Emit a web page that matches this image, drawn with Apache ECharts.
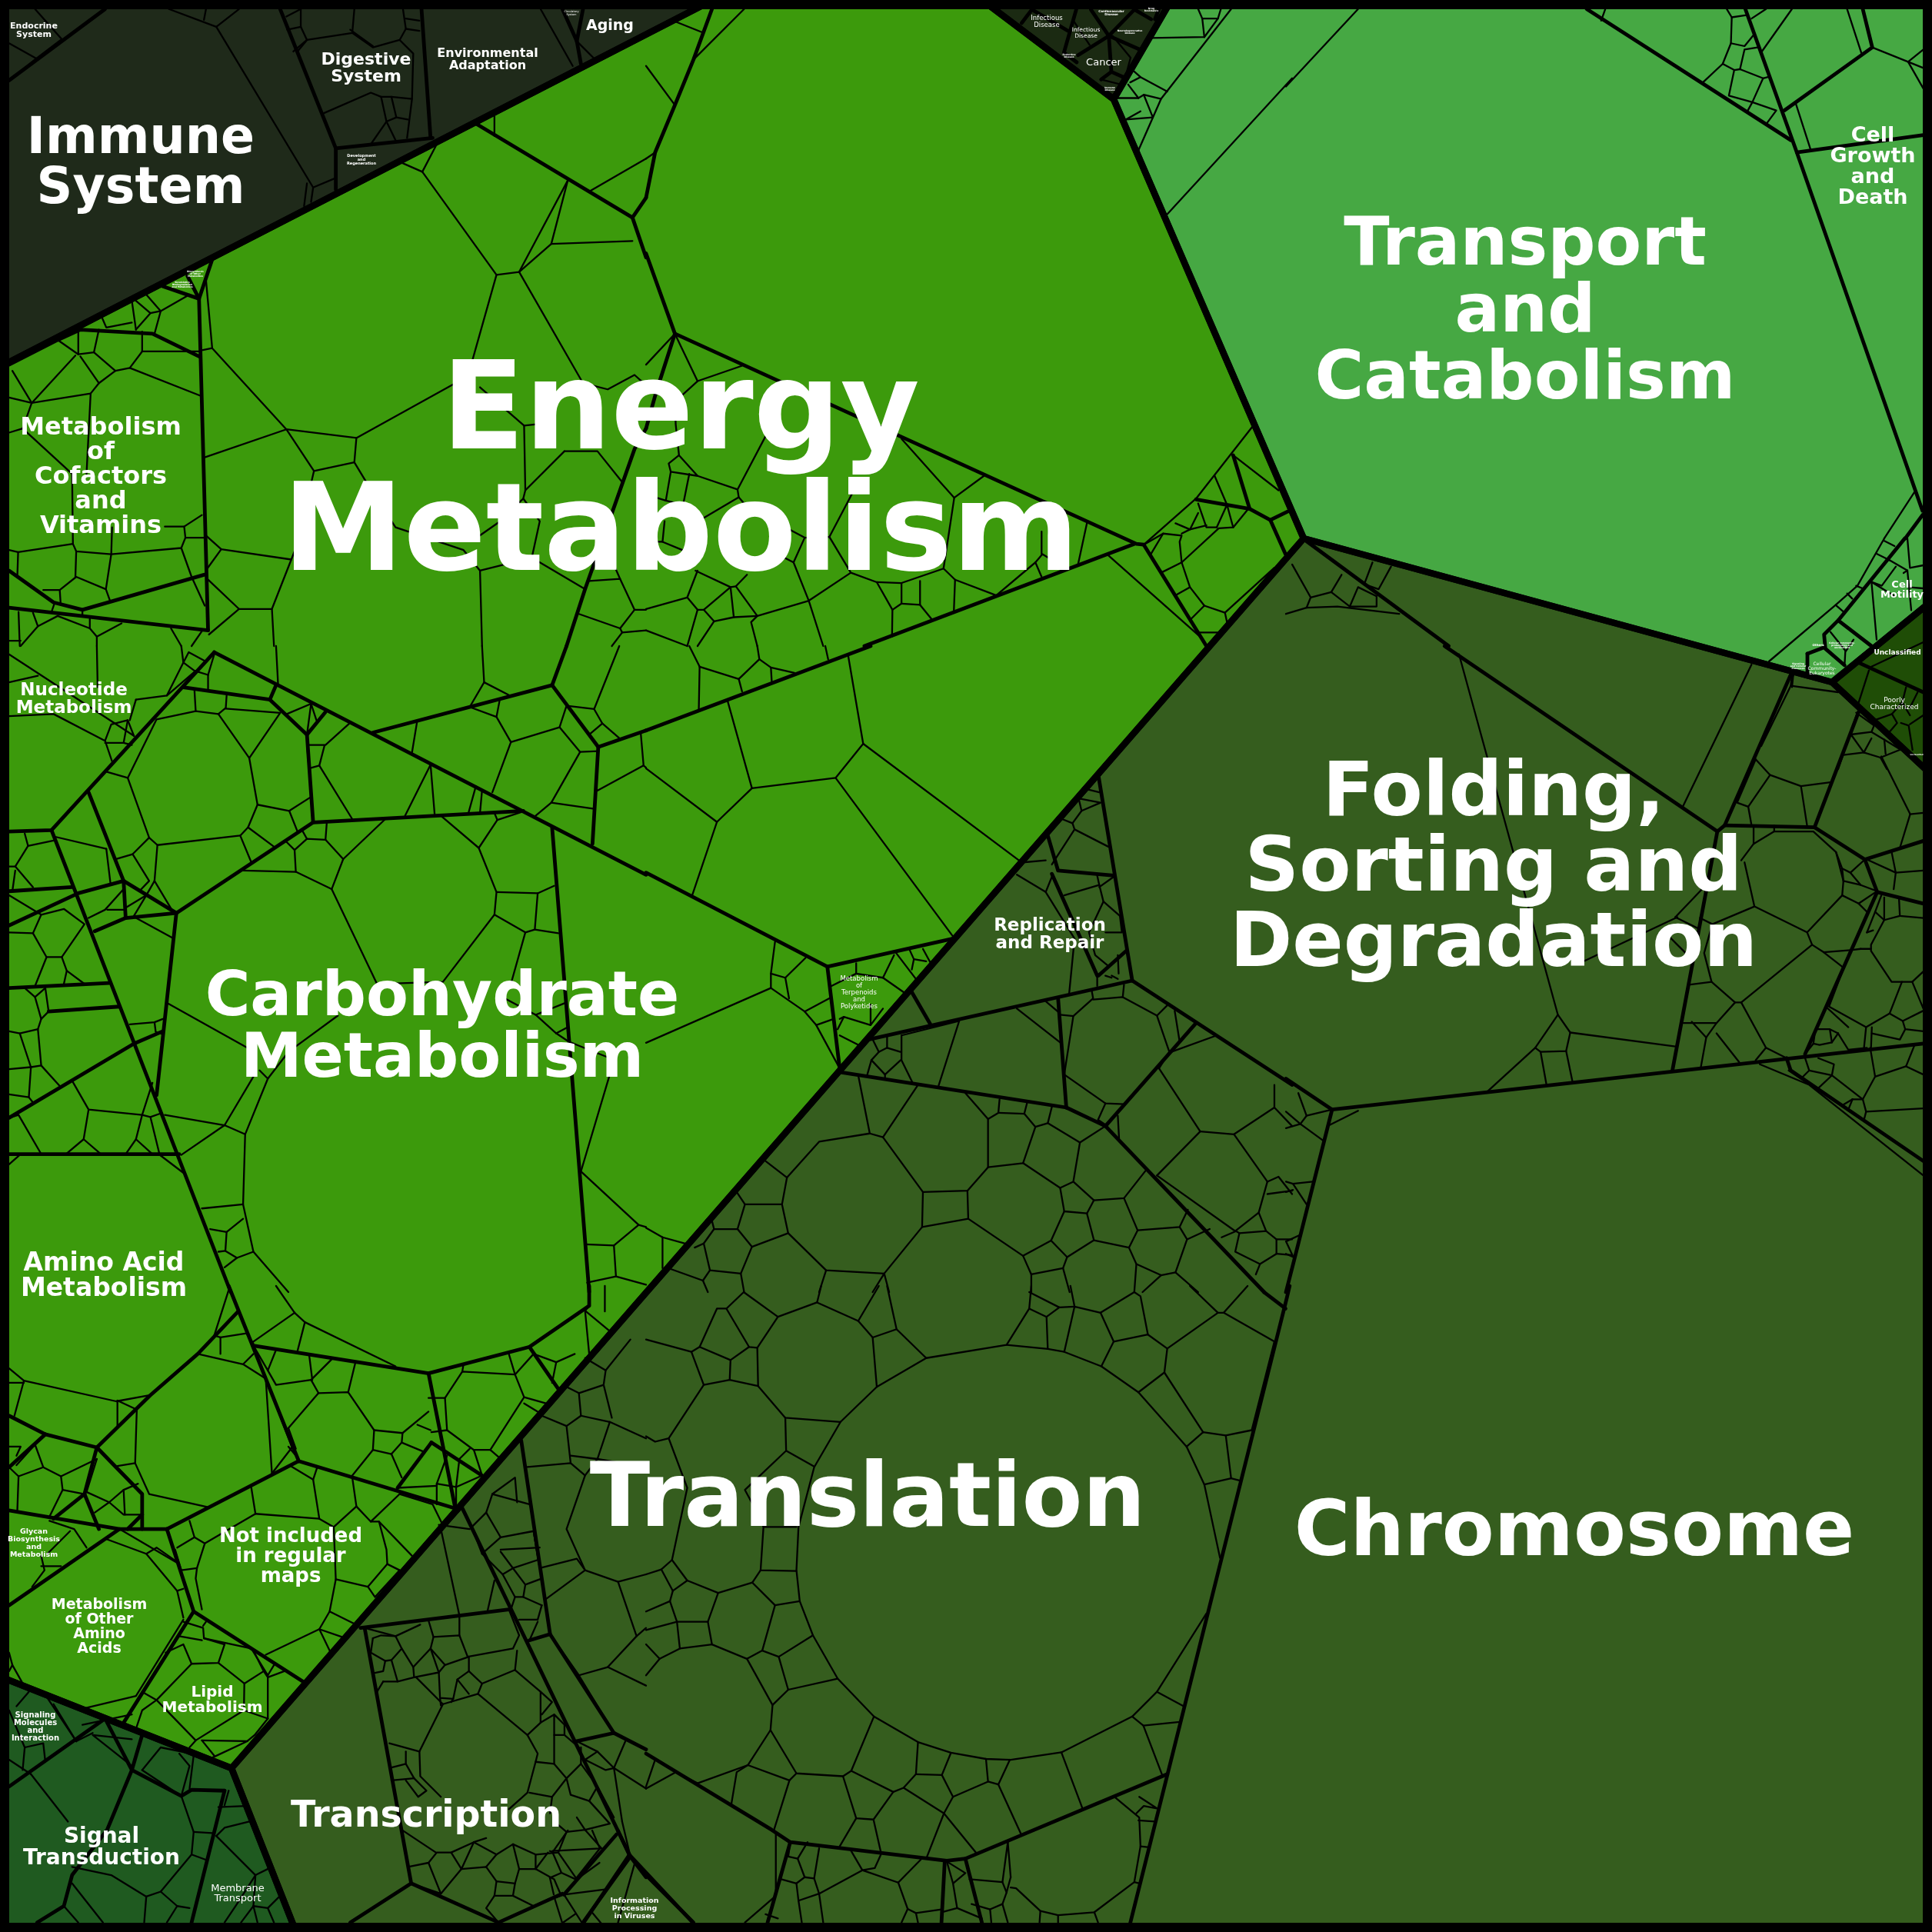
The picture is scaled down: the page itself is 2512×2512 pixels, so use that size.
<!DOCTYPE html>
<html><head><meta charset="utf-8">
<style>html,body{margin:0;padding:0;background:#000}#c{width:2512px;height:2512px}</style>
<script src="https://cdn.jsdelivr.net/npm/echarts@6/dist/echarts.min.js"></script>
</head><body><div id="c"></div>
<script>
// ---- top level regions, in picture coordinates ----
const regionNames=['Organismal Systems','Human Diseases','Cellular Processes','Poorly Characterized','Genetic Information Processing','Metabolism','Environmental Information Processing'];
const regionColors=['#1f2a1a','#1b2a12','#46a843','#1f4d06','#355d1e','#3c9a0c','#1f5a20'];
const regionOutlines=[
 [[0,0],[927,0],[0,477]],
 [[1277,0],[1448,129],[1523,0]],
 [[1523,0],[1448,129],[1695,700],[2382,887],[2512,781],[2512,0]],
 [[2382,887],[2512,781],[2512,1008]],
 [[1695,700],[2382,887],[2512,1008],[2512,2512],[385,2512],[301,2299]],
 [[927,0],[1277,0],[1448,129],[1695,700],[301,2299],[0,2180],[0,477]],
 [[0,2180],[301,2299],[385,2512],[0,2512]]
];
// ---- category (medium) borders, read per crop of the picture ----
const midA=[[680,22,815,360,815,460],[815,360,1050,335],[1023,22,1045,335],[22,195,255,22],[1365,22,1400,100,1410,155],[1415,22,1400,100],
[1155,300,1535,528],[515,630,483,725,505,1530],[22,885,140,825,195,800,370,810,483,865],[22,1385,130,1462,200,1480,495,1395],[22,1475,505,1530],[395,695,483,725],[455,670,483,725],[1535,528,1568,625],[1535,528,1568,480],[1568,1040,1540,1090,1480,1260,1420,1430,1375,1568]];
const midB=[[160,22,115,145,70,255,22,370,0,480],[0,615,70,810],[70,810,1190,1320,1208,1322],[70,810,25,950,0,1040],[1185,1320,530,1568],[1208,1322,1360,1568],[1335,1212,1465,1235,1515,1262,1552,1345],[1465,1235,1425,1105],[1515,1262,1560,1240]];
const midC=[[730,22,1225,340],[1115,22,1240,370,1545,1240],[1240,370,1547,328],[1210,268,1423,115,1400,22],[45,1310,395,1568],[1545,1250,1503,1307]];
const midD=[[22,450,125,447,520,15],[520,15,1568,555],[125,447,560,1568],[445,100,655,130,670,95],[655,130,745,215,790,160],[745,215,760,428,1270,400],[760,428,428,648,300,570,215,355],[428,648,380,1090],[300,570,305,660,230,692],[305,660,428,648],[300,570,190,600,22,678],[22,595,175,585],[22,830,265,818],[118,887,290,875],[22,1145,325,965,395,935],[22,1233,435,1233],[1340,440,1430,1568],[1340,95,905,210],[1340,95,1452,245,1568,205],[1452,245,1438,480],[1340,95,1375,0]];
const midE=[[0,205,545,0],[0,550,440,778,745,710],[440,778,470,1025],[1098,315,1180,812],[1180,812,540,955],[1180,812,1568,1065],[1000,855,1020,1120],[475,1035,1020,1120],[1020,1120,1115,1165,1500,1568],[1115,1165,1335,915],[470,1030,540,955],[975,460,1000,545,1135,557],[985,553,1095,800],[1098,800,1165,740],[690,918,645,840]];
const midF=[[0,1050,112,1125,1547,965],[112,1125,20,1490,0,1568],[385,0,1047,450],[1047,450,938,1030],[1047,450,1065,435,1225,70,1230,70],[1065,435,1283,440,1390,160],[1283,440,1405,518,1547,473],[1405,518,1435,597,1260,990],[1435,597,1547,625],[1215,1000,1225,1030,1547,1250]];
const midG=[[22,775,290,590,405,590],[22,545,290,590],[405,590,725,425,1105,540],[405,590,470,790,735,960],[470,790,300,1060],[725,425,555,0],[1040,212,1105,540],[1047,380,1170,460],[1047,380,965,490],[615,145,1040,212,1285,148,1430,48,1430,0],[1285,148,1355,250],[22,315,110,360,235,392,365,265,480,165,578,62],[235,392,205,505],[22,440,110,360],[235,392,345,505,345,590],[205,505,130,565],[205,505,240,590],[345,555,310,590],
[22,1215,255,1050],[320,1175,440,1238,465,1223,545,1225],[255,1050,320,1175],[320,1175,260,1320,175,1430,155,1505,90,1545],[545,1225,465,1545],[345,1090,320,1175],
[875,830,1235,785],[885,830,998,1450,1210,1545,1365,1475],[1120,535,1530,1385,1415,1545],[1265,375,1335,845,1490,1085],[1335,845,1285,860],[1490,1085,1400,1105],[1490,1085,1568,1125],[1530,1385,1568,1435],[998,1450,850,1545]];
const midH=[[0,1135,305,1320,350,1350,730,1395,775,1390,1265,1185],[350,1350,295,1545],[725,1395,717,1545],[775,1390,815,1545],[1562,0,1555,30,1175,1547],[0,1430,115,1545],[1500,15,1552,55]];
const midZ10=[[560,0,300,320,430,420],[300,320,245,375,250,430,325,495],[180,450,245,425],[180,450,180,530],[380,485,632,600]];
const midZ12=[[55,250,260,15],[310,95,130,362],[310,95,560,362],[310,95,265,0]];
const midZ9=[[155,22,115,75],[155,22,295,105],[328,22,280,190,330,228],[385,22,455,125,555,22],[455,125,335,200],[455,125,465,265,425,295],[465,265,510,285],[455,125,580,180],[620,60,555,22],[635,60,650,22]];
// ---- pathway (thin) borders ----
const thinA=[[410,22,525,65,760,455,755,490],[495,48,500,22],[525,65,580,22],[760,455,815,432],[745,445,738,500],[22,105,88,142,150,95,85,22],[88,142,60,165],
[697,72,730,65,745,97,855,80,860,22],[730,65,730,22],[695,40,730,22],[712,125,745,97],[855,80,905,115,970,97,985,70,978,22],[985,45,1018,50],[985,70,1018,75],[970,97,1003,130,1000,240,950,235,925,235,900,225,785,275],[722,125,745,97],[925,235,938,295,960,340],[950,235,962,285,990,290],[938,295,962,285],[938,295,900,350],[1000,240,988,335],[850,72,905,112],
[1312,22,1390,160],[1400,100,1440,140],[1200,330,1200,270],[975,395,1025,417,1060,350],[1025,417,1205,667,1260,660,1378,438],[1260,660,1338,592,1378,438],[1338,592,1535,585],[1430,465,1568,385],[1205,667,1145,880,1105,930,865,1063,695,1042,515,845,500,680],[515,845,490,850],[695,1042,497,1110],[695,1042,762,1143,860,1122,865,1063],[860,1122,895,1180,960,1280,1125,1335,1165,1385,1170,1568],[762,1143,750,1195],[1260,660,1415,930,1475,945,1540,910,1568,935],[1165,940,1272,1033,1275,1190,1270,1210,1310,1265,1285,1380],[1272,1033,1345,1025],[1370,1095,1275,1190],[1370,1095,1450,1095,1510,1170],[1270,1210,1210,1268,1150,1310],[1165,1385,1225,1370],[1285,1350,1420,1430],[500,1300,537,1333,707,1358,660,1478,665,1568],[537,1333,503,1380],[503,1405,580,1478,660,1478],[580,1478,507,1540],[707,1358,730,1300],[1430,1410,1505,1405,1540,1480,1568,1480],[1405,1490,1505,1525,1540,1480],[1505,1525,1510,1535,1568,1530],[1510,1535,1485,1568],[1505,1405,1450,1280],
[320,730,330,800],[330,730,365,760,390,755,375,810],[355,715,390,755],[390,755,460,715],[330,800,365,760],[245,765,258,795,320,783],[190,800,190,860,228,855,240,800],[140,825,190,860],[195,865,240,930,280,900,315,893,345,853,483,853],[228,855,280,900],[345,853,345,805],[315,893,485,960],[240,930,220,955,77,978,183,863],[77,978,30,900],[77,978,22,965],[77,978,55,1040,22,1050],[220,955,210,1150],[55,1040,175,1150,177,1320,44,1340,22,1335],[177,1320,185,1338,270,1345,440,1330,450,1305,447,1278,490,1250],[270,1345,272,1280],[447,1278,400,1278],[450,1305,495,1305],[440,1330,465,1400,497,1470],[270,1345,257,1430,185,1400,145,1432,105,1432],[185,1338,183,1400],[257,1430,267,1458],[145,1432,147,1462],[44,1340,42,1400],[45,1485,48,1568],[80,1487,92,1520,50,1568],[92,1520,140,1495,218,1525,235,1545,235,1568],[218,1525,218,1497],[235,1545,295,1513],[415,1525,440,1568],[490,1532,465,1568],[22,1555,50,1555],[132,1465,125,1485],[200,1480,200,1495]];
const thinB=[[0,160,70,255],[65,50,135,78],[115,145,238,22],[22,370,0,385],[70,810,0,885],[70,810,125,925,232,888],[125,925,70,975,72,1030,80,1105,125,1155,222,1188,300,1040],[80,1105,55,1125,60,1145,125,1155],[60,1145,48,1215,0,1200],[105,1150,90,1225],[48,1215,90,1225,135,1260,225,1207,222,1188],[225,1207,245,1230],[45,1265,40,1315,0,1315],[40,1315,88,1335],[245,1230,385,1305],[620,1065,748,1208,820,1155],[748,1208,722,1380,750,1407,850,1445],[722,1380,620,1415,560,1413,497,1390,445,1303,520,1160],[445,1303,385,1305,358,1365,395,1458,497,1390],[358,1365,300,1335],[395,1458,430,1568],[395,1458,270,1495,218,1423,245,1395],[218,1423,205,1425,140,1480,125,1480,100,1450,125,1385],[205,1425,120,1385],[205,1425,213,1498,270,1495],[213,1498,165,1508,140,1480],[270,1495,255,1510,270,1568],[165,1508,125,1568],[125,1480,100,1568],[100,1450,0,1478],[0,1530,100,1568],[560,1413,598,1480,620,1465,620,1415],[665,1410,665,1468,620,1465],[665,1468,695,1505],[598,1480,597,1545],[750,1407,747,1485],[850,1445,945,1365,962,1345,1020,1380],[945,1365,960,1400],[960,1290,960,1345],[1070,1270,1048,1372],
[1122,1348,1350,1550],[1208,1322,1335,1210,1472,1035],[1208,1322,1255,1295,1300,1300,1295,1315,1300,1365,1250,1390],[1255,1295,1225,1345],[1300,1365,1390,1282,1425,1280,1460,1237],[1300,1365,1320,1425,1285,1445],[1320,1425,1355,1470,1405,1487,1525,1378],[1405,1487,1410,1510],[1355,1470,1320,1505],[1335,1535,1390,1535],[1425,1280,1410,1225,1380,1155],[1410,1225,1385,1280],[1425,1105,1535,1190],[1340,1222,1360,1280,1385,1280],[1285,1270,1320,1285,1360,1275],[1300,1295,1320,1285,1340,1245],
[1195,365,1250,240,1420,22],[1265,520,1568,190],[1230,285,1165,290],[1225,92,1355,90,1350,45,1340,22],[1350,45,1388,45,1395,22],[1355,90,1388,45],[1225,92,1190,145,1175,165,1200,187,1265,222],[1200,187,1175,200],[1145,238,1195,238,1208,230,1250,240],[1170,205,1195,238],[1208,230,1230,285],[1165,290,1200,270],[1195,365,1180,350]];
const thinC=[[0,210,175,22],[1525,1195,1452,1307],[1155,125,1228,22],[1237,250,1273,362],[1362,22,1397,130],[1423,115,1510,150,1547,165],[1510,150,1547,120],[1510,150,1547,215],[775,22,765,50],[1070,22,1082,42,1080,105,1113,112,1135,85],[1082,42,1115,37],[1130,45,1165,22],[1080,105,1060,155,1012,200],[1060,155,1088,170,1102,168,1158,190,1132,248,1075,232,1088,170],[1102,168,1113,120,1145,115],[1158,190,1170,187],[1132,248,1190,268,1168,298],[1132,248,1120,270],
[15,1370,60,1450,50,1475,0,1490],[60,1450,110,1437,135,1395],[110,1437,155,1472,175,1425,220,1447],[50,1475,125,1472,275,1490],[155,1472,220,1472,220,1447],[190,1418,225,1430,255,1375],[190,1418,210,1365]];
const thinD=[[22,20,325,218],[22,88,92,72],[22,170,130,165,255,230,272,280],[255,230,270,190,310,180,300,235,255,235],[300,235,320,240],[310,180,325,218],[330,130,405,120,445,40,440,0],[330,130,315,180],[405,120,475,60],[445,40,472,60,505,70],[445,40,458,15,495,35],[505,70,520,20],[505,70,505,105],[235,0,237,100],
[380,178,475,158,530,165,605,272,625,385,602,440,583,460,382,483,362,465,310,320,380,178],[475,158,472,108],[530,165,548,150,550,120],[548,152,680,162,605,272],[696,165,755,140,745,215],[755,140,768,180],[625,385,702,400,752,368],[702,400,722,450],[602,440,665,487],[583,460,610,525],[310,320,258,305],[362,465,322,505,282,517],[382,483,375,570],[322,505,362,570,338,595],[375,570,420,645],[258,492,130,462],[258,492,268,575],[60,455,68,485,130,472],[68,485,37,535,22,535],[37,535,80,585],[37,545,30,595],[375,570,355,605,305,635],[355,605,325,655],[260,640,300,640],[215,660,255,640,300,590],[22,605,100,652,80,697,22,695],[100,652,155,638,205,675,150,755,113,755,80,697],[113,755,85,825],[150,755,162,788,155,820],[162,788,205,820],[330,660,418,708],
[60,830,85,852,110,830],[85,852,100,905,118,887,110,830],[100,905,92,930,100,1018,75,1022,48,940,22,935],[92,930,48,940],[100,1018,147,1070],[75,1022,22,1027],[75,1022,70,1095,22,1088],[70,1095,80,1108],[175,1055,215,1125,345,1138,370,1060],[345,1138,330,1197,305,1233],[215,1125,203,1197,160,1233],[203,1197,245,1233],[330,1197,370,1233],[345,1138,365,1143,387,1233],[365,1143,388,1135],[22,1145,45,1138,100,1233],[22,1258,48,1235],[385,1233,447,1280],[315,918,375,913,395,905],[375,913,378,937,395,942],
[407,867,600,975],[820,897,700,985,650,1050,595,1185,590,1355,615,1470,700,1568],[615,1045,545,1163,595,1185],[545,1163,400,1138],[545,1163,440,1235],[630,1030,650,1050],[590,1355,490,1365],[590,1390,550,1422,510,1415],[550,1422,547,1468,575,1485,615,1470],[547,1468,530,1470],[575,1485,545,1508],
[590,545,718,548,805,590,915,820,1075,815,1200,652,1205,597,1162,490,1070,412],[805,590,833,517,935,420],[718,548,715,495,745,468,790,470,833,517],[745,468,735,450],[715,495,695,475],[790,470,793,430],[1162,490,1207,422,1268,402],[1205,597,1305,600,1345,582],[1305,600,1298,688,1355,697],[1200,652,1275,695,1298,688],[1275,695,1240,820],[1215,850,1300,895,1375,865],[1300,895,1350,940,1378,925],[1350,940,1380,960,1480,1000],[1480,1040,1410,1275],[1410,1275,1550,1405,1490,1455,1420,1452],[1550,1405,1568,1410],[1490,1455,1495,1530,1425,1545],[1495,1530,1568,1550],
[775,290,855,420],[775,290,750,297,745,240,788,240,775,290],[790,240,848,188],[1045,288,983,412],[1045,288,1055,410],[1155,340,1137,405],[1170,350,1165,405],[1195,355,1240,233,1205,172,1140,148,1175,88,1237,120],[1205,172,1213,130],[1240,233,1358,197,1408,257,1452,255],[1408,257,1338,380,1442,395],[1338,380,1300,412],[1358,197,1375,145],[1375,145,1442,153,1462,188,1505,225],[1462,188,1430,215],[1442,153,1503,0],[1012,185,1000,258],[1175,88,1170,0],[670,0,675,95],[1555,210,1562,290,1568,295],[1562,290,1448,352],[1200,405,1207,422]];
const thinE=[[130,50,128,155],[130,50,225,80,275,32,303,52,360,65],[225,80,233,110],[130,50,105,0],[275,32,270,0],[303,52,305,85],[435,0,442,32],[490,20,527,237,460,320,257,345,197,130],[527,237,905,520],[460,320,745,705],[257,345,172,427,0,297],[172,427,112,605],
[313,718,303,795,338,805,387,757],[303,795,303,830],[338,805,347,855],[303,830,0,963],[303,830,385,887,413,920,470,1025],[385,887,445,855],[413,920,455,905],[510,770,510,795,575,805,602,750],[510,795,450,825],[575,805,625,840],[470,905,480,900,545,920,575,880],[480,900,465,930],[470,945,515,968],[545,920,545,870],[607,745,655,808],[640,738,650,760,645,785],[650,760,680,765],[672,735,690,768],
[1060,345,1100,355],[1050,370,1103,380,1057,400,1050,370],[1057,400,1035,430,1010,420],[1035,430,1040,445,985,530],[1040,445,1122,487],[915,525,970,520],[900,555,970,597,985,560],[970,597,1040,710,1027,842],[1015,605,1100,580,1095,557],[1100,580,1110,620,1150,655,1155,695,1115,695],[1110,620,1075,695,1090,750,1120,775],[1135,560,1100,585],[1130,800,1145,808],[1145,750,1147,795],[1115,800,1130,805],[1095,800,1095,825],
[620,945,620,1005,648,1062],[620,945,760,910,710,1067],[550,955,565,985,585,975,617,985],[565,985,547,1005,537,1040],[547,1005,580,1040,618,1005],[580,1040,580,1050],[585,945,585,975],[900,880,1005,962],[970,862,1003,890,1000,858],[1005,895,1037,898,1085,855,1082,838],[1037,898,1015,1040,1115,1110,1160,1112],[1115,1110,1097,1150,1120,1165],[1085,858,1157,852,1240,897,1270,985],[1157,852,1160,822],[1240,897,1265,872],[1283,885,1295,960],[1275,985,1385,945],
[515,1042,543,1183,420,1203,342,1290,290,1250],[543,1183,575,1192,660,1065],[575,1192,672,1325,780,1322,830,1265,830,1148,775,1085],[830,1148,855,1133,858,1100],[855,1133,918,1135,925,1108],[918,1135,945,1167,975,1158,985,1118],[975,1158,1053,1205,1115,1165],[945,1167,915,1255,830,1265],[915,1255,1005,1315,1037,1300,1053,1205],[1037,1300,1087,1345,1160,1340,1215,1270],[1005,1315,1015,1372,1070,1377,1087,1345],[1015,1372,983,1443,915,1480,782,1390,780,1322],[1070,1377,1087,1442,1022,1483,983,1443],[1087,1442,1172,1460,1193,1418,1160,1340],[1193,1418,1295,1410,1315,1368],[1172,1460,1190,1500,1250,1527,1285,1520,1313,1440,1295,1410],[1313,1440,1368,1415],[1285,1520,1340,1568],[1190,1500,1185,1568],[1250,1527,1205,1568],[1022,1483,1012,1510,935,1525,915,1480],[1012,1510,1028,1568],[935,1525,935,1568],
[342,1290,330,1355,345,1425,437,1515,578,1523,670,1410,672,1325],[330,1355,240,1355,220,1325],[240,1355,222,1415,257,1458,345,1425],[222,1415,165,1415,140,1450,155,1515,230,1523,257,1458],[165,1415,160,1395],[140,1450,118,1460],[155,1515,138,1540,60,1512],[138,1540,150,1568],[230,1523,238,1568],[437,1515,420,1568],[578,1523,590,1568],[578,1523,550,1568],[670,1410,782,1390],[40,1435,40,1510],[0,1412,40,1435,95,1450],
[1245,1025,1345,1178,1240,1285],[1245,1025,1270,985],[1345,1178,1427,1185,1525,1120,1525,1065],[1427,1185,1508,1300,1487,1375,1430,1420,1240,1285],[1145,1140,1148,1195],[1432,1420,1397,1435],[1525,1120,1568,1165],[1508,1300,1535,1288,1568,1330],[1508,1330,1568,1322],[1487,1375,1505,1420,1530,1440,1568,1440],[1505,1420,1440,1425,1430,1470,1490,1500,1530,1475,1530,1440],[1440,1425,1432,1420],[1530,1475,1568,1478],[1490,1500,1480,1525]];
const thinF=[[420,20,660,895,605,975,487,1083],[660,895,690,938,680,983,618,985,632,1063],[605,975,618,985],[680,983,695,1055],[690,938,945,972],[723,765,950,658],[945,658,1010,590],[945,658,1000,685],[925,700,970,745],[1130,45,963,390],[1140,275,1175,313,1250,340,1325,330],[1175,313,1122,390,1130,435],[1250,340,1265,437],[1140,275,1095,380,1122,390],
[1105,520,1135,480,1185,450,1280,450,1335,500,1353,570,1350,605,1265,695,1137,632,1113,525],[1135,480,1135,435],[1185,450,1185,435],[1137,632,1035,675,1005,660],[1035,675,1015,745,1033,815,1090,865,1105,865,1277,725,1265,695],[1033,815,978,822],[1090,865,1045,915,1020,950,985,912],[1045,915,965,915],[1045,940,1100,1010],[1020,950,1007,1022],[1105,865,1165,975,1140,1005],[1165,975,1215,1000],[1277,725,1305,743,1370,738],[1305,743,1350,778],[1350,605,1390,625,1430,598],[1390,625,1410,645],[1353,570,1395,580,1435,595],[1395,580,1370,550,1405,518],[1370,550,1350,540,1335,500],[1350,540,1353,570],
[1445,268,1515,408,1490,490],[1515,408,1547,405],[1470,500,1480,550,1547,545],[1410,518,1480,550],[1480,550,1475,590],[1447,600,1430,645,1410,695],[1430,645,1452,665,1490,655],[1488,615,1490,655,1547,660],[1452,610,1452,665],[1425,690,1410,695],[1452,665,1420,725,1420,740,1470,815,1520,815,1547,790],[1520,815,1547,880],[1395,735,1370,738,1318,875,1408,925,1465,892,1495,815],[1420,735,1395,735],[1408,925,1403,975],[1422,925,1420,975],[1465,892,1497,910,1503,930,1547,935],[1497,910,1547,885],[1422,940,1490,955,1503,930],[1310,875,1365,925],[1340,940,1365,980,1410,975],[1340,940,1320,930,1285,930,1280,965,1295,968,1325,962,1320,930],[1325,962,1340,940],[1280,965,1260,990],
[1260,1000,1270,1030,1250,1050,1220,1030],[1270,1030,1325,1042,1290,1075,1250,1050],[1325,1042,1330,1015,1292,1000],[1325,1042,1400,1100,1430,1045,1505,1020,1547,1040],[1430,1045,1418,975],[1505,1020,1525,970],[1400,1100,1408,1130,1547,1122],[1408,1130,1403,1150],[1375,1100,1400,1100],[1375,1100,1350,1115],[1375,1100,1365,1125],[1150,1015,1270,1065,1547,1285],
[0,1130,35,1160,90,1200],[35,1160,50,1140,112,1125],[50,1140,30,1085],[35,1160,0,1170],[105,1163,175,1128],[65,1300,17,1305,0,1300],[17,1305,50,1355],[17,1320,0,1325],[33,1430,0,1445,18,1483],[0,1475,18,1483]];
const thinG=[[22,200,58,230,282,280,365,265],[22,235,58,235],[58,230,35,315],[285,280,285,340],[285,278,332,300,328,430,285,437],[328,430,362,505,505,537],[480,165,590,190,645,225,660,455],[590,190,615,165],[520,120,535,125,535,165],[535,125,598,115,615,140],[520,120,555,10],[660,455,710,390],[700,390,725,420],[645,225,710,395],[85,385,40,435],[22,390,50,390,40,412],[85,385,105,440,45,462,22,440],[105,440,148,462,235,420],[148,462,152,495,205,505],[152,495,120,560],[45,462,42,545],[235,420,210,500,265,525,300,495,335,480],[265,525,230,550],[265,525,300,555,345,555],[300,495,303,555],[120,570,180,590,210,635],[170,595,115,650],[100,655,108,690,78,730],[100,680,148,680],
[260,615,355,650,430,740,445,805],[355,650,380,635,430,670],[430,740,445,735],[290,590,430,672],[445,810,330,995,205,1025],[22,890,30,920,58,970,205,1025],[30,920,22,935],[320,1040,200,1065],
[402,890,445,870,465,917,530,915,545,870],[465,917,380,1005,475,1103,592,1030,650,1050],[530,915,593,965,592,1030],[593,965,640,935,615,885],[640,935,650,950,650,1050],[650,950,690,935],[650,1050,618,1090,600,1105,515,1145],[475,1103,460,1120],[490,1103,520,1140],[490,1103,600,1105],[380,1005,345,1030,330,1075],[380,1005,345,985],[445,815,493,830,495,855,610,880],[495,855,545,870],[493,825,500,815],[435,850,490,860],[610,880,650,945],[650,945,665,920],
[460,570,472,610,430,635],[472,610,497,625,478,685,440,690,425,640],[478,685,475,710,490,785],[497,625,620,553,610,490],[620,553,775,565,760,470,705,437],[760,470,770,440],[775,565,810,585,865,535,855,465],[865,535,900,572,970,505],[900,572,920,572,938,640,940,675,893,730,815,712,800,790,775,833,645,895],[920,572,1000,655],[810,585,815,712],[893,730,910,755,970,690],[940,675,970,690],[800,790,860,820],[775,833,800,885],[775,833,830,852],
[615,145,650,205,670,240,755,228,773,260,845,258,908,350,905,398,855,460],[650,205,670,155,750,165,758,228],[755,228,805,178],[773,260,700,345,718,395],[845,258,862,188],[908,350,977,357,1040,305],[977,357,975,380,950,408,905,398],[950,408,975,465],[975,380,1030,403],[1013,337,1045,350],[1040,272,1080,272,1085,350,1047,355],[1080,272,1122,208,1250,215,1235,165],[1122,208,1125,190],[1250,215,1272,270,1190,398,1150,398,1085,350],[1272,270,1325,285],[1250,215,1295,165],[1272,285,1305,305],[1190,398,1210,415],[1150,398,1170,460],[1115,420,1140,395],[1115,420,1107,488,1060,480,1085,412],[1060,480,1060,530],[1107,488,1170,460],[1107,488,1107,540],[965,490,1060,485],[970,505,1050,530,1072,575],[1295,165,1350,185,1340,235],[1350,185,1395,165],
[715,65,615,135],[715,65,740,88,722,158],[740,88,960,195],[670,0,715,65],[1430,48,1420,60,1430,165],[1420,60,1478,108],[1468,0,1468,62],
[22,1030,60,1120],[75,1185,22,1150],[60,1120,55,1175],[60,1120,105,1110,110,1155],[70,985,40,1020],[105,985,185,1105],[130,1015,185,1105],[185,1105,225,1085],[320,1100,225,1090,320,1165],[345,1175,390,1120,465,1135],[345,1175,440,1238,460,1165,435,1135],[75,1185,165,1300],[470,1140,460,1220],[440,1238,470,1325,465,1380,390,1470,355,1482,270,1430,175,1410],[470,1325,515,1328],[465,1380,498,1392],[355,1482,350,1545],[390,1470,430,1505,405,1545],[430,1505,460,1510],[155,1505,190,1545],[175,1450,250,1545],
[530,1265,597,1262],[545,1260,555,1225],[525,1335,545,1315,605,1300],[525,1335,620,1430,660,1410],[620,1430,575,1500,545,1545],[620,1430,615,1505],[615,1505,650,1510,680,1480],[650,1510,665,1545],[615,1505,585,1545],[615,1505,625,1545],
[1070,590,1115,800],[1200,715,1183,790],[1065,580,1140,590],[1070,595,1120,540],
[1040,812,1052,852,1115,848,1135,900,1245,880,1260,848,1235,785],[1115,800,1115,848],[885,830,960,850,1020,822],[960,850,975,880,950,908,965,960,1005,950,1003,925,1045,880,1052,852],[975,880,1003,925],[905,855,925,848,960,850],[905,855,900,890,935,910,950,908],[935,910,930,935,905,940],[930,960,965,960],[915,985,930,960],[1005,950,1065,938,1045,880],[1065,938,1080,920,1045,880],[1080,920,1138,900,1138,935,1110,955],[1138,935,1170,965,1250,932,1255,885],[1250,932,1312,985,1312,1060,1280,1090,1160,990,1170,965],[1160,990,1075,1015,1010,950],[1075,1015,1018,1130,945,1110],[1018,1130,1020,1190,1070,1240],[1280,1090,1305,1135,1300,1155,1280,1230,1235,1270],[1065,938,1068,1000,1100,1002,1110,955,1138,990],[1068,1000,1070,1018],[1100,1002,1095,1010],[1312,985,1340,1010,1315,1040],[1312,1060,1345,1040,1370,1065,1370,1090,1345,1090,1345,1040],[1300,1155,1345,1160,1375,1195,1340,1240,1285,1230],[1345,1090,1345,1160],[1370,1090,1405,1120],[1375,1195,1410,1160,1450,1215,1430,1250,1385,1235,1375,1195],[1410,1160,1410,1120],[1340,1240,1335,1280],[1450,1215,1490,1290],[1430,1250,1480,1305,1420,1320,1400,1290],[1420,1320,1375,1325,1345,1300],[1375,1325,1355,1375,1400,1440,1455,1400],[1420,1320,1460,1365],[1355,1375,1300,1380,1245,1355],[1245,1355,1260,1415,1300,1415,1300,1380],[1300,1415,1330,1375],[1260,1415,1250,1450,1245,1480,1295,1505,1360,1475],[1300,1415,1345,1440,1360,1475],[1245,1480,1200,1480,1180,1510,1210,1545],[1200,1480,1205,1445,1250,1450],[1205,1445,1180,1410,1120,1415,1070,1475,998,1450],[1120,1415,1150,1350,1205,1380,1180,1410],[1150,1350,1095,1375,1060,1375,1040,1400,990,1410],[1095,1375,1120,1415],[1040,1400,1070,1475],[1150,1350,1180,1340],[975,1320,1058,1375],[1205,1380,1245,1355],[945,1170,985,1160,1005,1195,950,1200],[1005,1195,1035,1225,1015,1240,985,1200],[985,1130,985,1160],
[1120,540,1145,585,1180,550,1195,505,1250,465,1255,525],[1195,505,1285,530],[1180,550,1215,610,1295,595,1310,685],[1145,585,1170,650,1215,610],[1170,650,1220,700,1245,685,1215,645],[1215,640,1310,635],[1245,685,1305,665],[1245,685,1275,725,1315,710],[1220,700,1250,755,1270,755,1275,725],[1250,755,1240,785],[1270,755,1315,775],[1260,810,1305,810,1315,775],[1305,815,1285,860],
[1275,440,1385,430,1420,460,1375,590,1420,690,1325,760],[1385,430,1375,340,1315,315],[1375,340,1410,315,1480,330,1450,420,1385,412],[1410,315,1405,260,1465,240,1485,320],[1405,260,1365,240],[1465,240,1470,205,1420,175],[1470,205,1530,130],[1480,330,1568,370],[1420,460,1450,420,1510,430],[1295,595,1310,685,1400,662,1420,690,1500,718,1568,700],[1500,718,1545,850,1475,925,1405,945,1335,845],[1475,925,1568,970],[1545,850,1568,830],[1400,1105,1450,1130,1420,1150,1470,1175,1490,1170,1510,1300],[1490,1170,1520,1100],[1510,1300,1530,1385],[1450,1130,1490,1170],[1405,945,1490,1085],[1490,1170,1568,1220]];
const thinH=[[0,130,110,160,140,240,55,370,22,378,0,365],[110,160,130,148,172,55,195,55,250,148,270,150,320,75,237,15,195,55],[130,148,205,180,250,148],[205,180,203,228,140,240],[203,228,272,243,270,150],[272,243,338,320,472,330,560,245,550,125,515,85,415,40,320,75],[415,40,425,0],[515,85,565,0],[550,125,608,105,585,0],[608,105,680,175,875,143,930,55,935,0],[560,245,680,175],[875,143,975,153,1015,160,1040,50,1103,65,1135,135,1105,195],[975,153,972,75,930,55],[972,75,1003,52,930,15],[1003,52,1040,50],[1040,50,1030,0],[1103,65,1185,15,1200,25,1218,118,1135,135],[1218,118,1265,152,1258,210,1195,258],[1265,152,1388,65,1402,65,1525,135,1470,350,1407,363,1352,355,1312,390],[1388,65,1320,0],[1402,65,1460,0],[1258,210,1352,355],[1407,363,1420,467,1355,482],[1420,467,1440,472],[1312,390,1355,482,1393,660],
[1015,160,1105,195,1195,258,1312,390],[472,330,408,440,370,585,365,690,373,765,405,848,465,953,553,1045,660,1107,740,1133,825,1148,885,1150,1008,1132,1180,1045,1240,985,1360,795],[338,320,340,400,408,438],[340,400,240,495,275,560,285,585,365,585],[285,585,278,690,365,692],[278,690,258,720,313,775,373,765],[258,720,175,745,100,715,63,665,100,490,55,370],[63,665,37,688,65,740,100,715],[37,688,0,700],[65,740,58,765,0,790],[58,765,75,815,0,835],[75,815,150,815,175,745],[150,815,160,870,82,880,75,815],[160,870,245,905,282,885,313,775],[282,885,322,900,405,848],[322,900,345,980,465,953],[245,905,307,1017,345,980],[307,1017,302,1078,365,1183,478,1190,498,1177,553,1045],[302,1078,247,1163,125,1207],[247,1163,348,1200,365,1183],[247,1163,220,1180,207,1258],[348,1200,310,1322],[498,1177,600,1228,625,1218,655,1185,660,1107],[655,1185,718,1187,740,1133],[718,1187,745,1240,830,1203,825,1148],[830,1203,855,1210,883,1150],[855,1210,910,1330],[745,1240,723,1280,625,1218],[723,1280,803,1378],[723,1280,680,1390],[478,1190,510,1292,552,1295,600,1228],[510,1292,470,1360],[552,1295,570,1375],[1008,1132,1060,1270],[1180,1045,1207,1067,1252,1185],[1207,1067,1295,1058],[1240,985,1305,1020],[82,880,33,905,0,870],[33,905,0,945],[125,1207,72,1180,0,1220],[22,1150,0,1215],
[315,1330,315,1475],[350,1350,345,1385,368,1390,392,1350],[368,1390,385,1435,365,1450,328,1440],[385,1435,408,1438,420,1365],[408,1438,420,1475,370,1492,365,1450],[370,1492,378,1545],[420,1475,430,1545],[420,1475,525,1418,612,1448,667,1392],[525,1418,497,1370],[525,1418,555,1413,570,1380],[612,1448,635,1512,655,1522,717,1513],[655,1522,660,1545],[635,1512,620,1545],[730,1397,745,1450,775,1425,730,1397],[745,1450,755,1510,717,1520],[755,1510,815,1535],[785,1440,865,1447,878,1350],[865,1447,875,1472,885,1435],[875,1472,865,1500,835,1513,790,1500],[865,1500,878,1545],[885,1460,898,1462,957,1517,1000,1527,1088,1520,1185,1447,1200,1360,1197,1290,1137,1240],[1190,1280,1208,1262,1240,1268,1197,1240],[1195,1297,1235,1300],[1200,1360,1217,1362],[1185,1447,1198,1450],[957,1517,955,1545],[1000,1527,1000,1545],[1088,1520,1097,1545],[835,1513,838,1545],[878,1350,885,1435],[315,1480,240,1545],[290,1525,320,1535]];
const thinZ9=[[320,70,380,160],[470,125,540,210,520,285],[425,295,505,315,490,340]];
const thinZ10=[[480,0,375,185,290,260,30,480],[450,60,500,85],[370,185,395,195],[335,215,355,235],[290,260,325,290],[480,10,520,30],[570,0,580,115,632,105],[500,85,570,125,555,135],[570,125,585,280],[430,170,470,185,525,110],[430,170,450,395],[430,170,520,225],[570,190,632,195],[270,365,330,440,360,395],[328,440,325,495],[430,500,632,405],[420,515,380,640],[565,580,550,640,510,685,440,710],[510,685,530,720,500,755],[550,640,580,690],[610,600,580,660],[580,725,632,690],[545,720,575,730,590,825],[120,535,115,575,300,600],[115,575,0,810],[125,530,120,580],[375,680,300,900],[350,765,430,755,440,730,370,680],[430,755,480,785,545,825],[350,765,400,835,465,855,540,825],[400,835,430,780],[480,785,485,840],[320,845,400,835],[465,855,490,900]];
const thinZ12=[[55,250,215,230],[0,270,55,250,125,360],[330,130,265,362],[165,320,200,362],[50,360,100,325],[20,270,48,360],[165,0,195,70,10,80],[0,80,10,85,45,165,0,185],[10,85,70,0],[45,165,100,190,195,70],[0,185,15,250]];
// ---- labels ----
const labelTexts=['Energy\nMetabolism','Transport\nand\nCatabolism','Folding,\nSorting and\nDegradation','Chromosome','Translation','Carbohydrate\nMetabolism','Immune\nSystem','Transcription','Metabolism\nof\nCofactors\nand\nVitamins','Nucleotide\nMetabolism','Amino Acid\nMetabolism','Not included\nin regular\nmaps','Metabolism\nof Other\nAmino\nAcids','Lipid\nMetabolism','Signal\nTransduction','Membrane\nTransport','Signaling\nMolecules\nand\nInteraction','Glycan\nBiosynthesis\nand\nMetabolism','Replication\nand Repair','Metabolism\nof\nTerpenoids\nand\nPolyketides','Digestive\nSystem','Environmental\nAdaptation','Aging','Endocrine\nSystem','Development\nand\nRegeneration','Circulatory\nSystem','Cell\nGrowth\nand\nDeath','Cell\nMotility','Unclassified','Poorly\nCharacterized','Information\nProcessing\nin Viruses','Cancer','Infectious\nDisease','Infectious\nDisease','Cardiovascular\nDisease','Neurodegenerative\nDisease','Drug\nResistance','Endocrine\nDisease','Immune\nDisease','Others','Cellular\nCommunity-\nEukaryotes','Signaling\nand Cellular\nProcesses','Cellular community-\nprokaryotes and\nunclassified','Unclassified','Biosynthesis\nof Other\nMetabolites','Xenobiotics\nBiodegradation\nand Metabolism'];
const labelX=[885,1983,1942,2047,1128,575,183,554,131,96,135,378,129,276,132,309,46,44,1365,1117,476,634,793,44,470,743,2435,2473,2467,2463,825,1435,1361,1412,1445,1469,1497,1390,1443,2364,2369,2338,2395,2492,254,237];
const labelY=[621,408,1133,1996,1954,1339,215,2363,621,910,1660,2024,2116,2211,2403,2462,2245,2007,1216,1291,89,78,34,40,208,17,217,767,849,915,2482,82,28,43,17,42,13,73,116,839,869,866,839,981,356,370];
const labelSizes=[158,87,98,99,115,80,65,47.5,32,23,33,26,19,20,28,13,10,9.5,23,8.5,22,16,19,11,5,3.5,27,13,9,9,9.5,13,8.5,7.5,4,3,3,3,3,4,6,3,3,2.5,3,3];
const labelBold=[1,1,1,1,1,1,1,1,1,1,1,1,1,1,1,0,1,1,1,0,1,1,1,1,1,0,1,1,1,0,1,0,0,0,1,1,1,1,1,1,0,1,1,1,1,1];

// ---- read the crops back into picture coordinates ----
const S=840/1568;
function place(list,ox,oy,s){return list.map(a=>{const p=[];for(let i=0;i+1<a.length;i+=2)p.push([ox+a[i]*s,oy+a[i+1]*s]);return p;});}
const midLines=[].concat(place(midA,0,0,S),place(midB,840,0,S),place(midC,1672,0,S),place(midD,0,840,S),place(midE,840,840,S),place(midF,1672,840,S),place(midG,0,1672,S),place(midH,840,1672,S),place(midZ10,2290,700,1/3),place(midZ12,715,2380,1/3),place(midZ9,1290,5,1/3));
const thinLines=[].concat(place(thinA,0,0,S),place(thinB,840,0,S),place(thinC,1672,0,S),place(thinD,0,840,S),place(thinE,840,840,S),place(thinF,1672,840,S),place(thinG,0,1672,S),place(thinH,840,1672,S),place(thinZ9,1290,5,1/3),place(thinZ10,2290,700,1/3),place(thinZ12,715,2380,1/3));
const frame=[[[0,0],[2512,0],[2512,2512],[0,2512],[0,0]]];

function lineSeries(lines,width,z){
 return {type:'custom',coordinateSystem:'cartesian2d',z:z,silent:true,animation:false,clip:true,progressive:0,
  data:lines.map((_,i)=>[0,0,i]),
  renderItem:(params,api)=>{const l=lines[api.value(2)];
   return {type:'polyline',shape:{points:l.map(p=>api.coord(p))},style:{fill:null,stroke:'#000',lineWidth:width,lineJoin:'round',lineCap:'round'}};}};
}
const option={
 animation:false,backgroundColor:'#000',
 grid:{left:0,right:0,top:0,bottom:0},
 xAxis:{type:'value',min:0,max:2512,show:false},
 yAxis:{type:'value',min:0,max:2512,inverse:true,show:false},
 series:[
  {type:'custom',name:'regions',coordinateSystem:'cartesian2d',z:1,silent:true,animation:false,progressive:0,
   data:regionOutlines.map((_,i)=>[0,0,i]),
   renderItem:(params,api)=>{const i=api.value(2);
    return {type:'polygon',shape:{points:regionOutlines[i].map(p=>api.coord(p))},style:{fill:regionColors[i],stroke:'none'}};}},
  lineSeries(thinLines,2.3,2),
  lineSeries(midLines,4.8,3),
  lineSeries(regionOutlines.map(r=>r.concat([r[0]])),8.5,4),
  lineSeries(frame,24,5),
  {type:'custom',name:'labels',coordinateSystem:'cartesian2d',z:6,silent:true,animation:false,clip:false,progressive:0,
   data:labelTexts.map((_,i)=>[labelX[i],labelY[i],i]),
   renderItem:(params,api)=>{const i=api.value(2),c=api.coord([api.value(0),api.value(1)]),fs=labelSizes[i];
    return {type:'text',x:c[0],y:c[1],style:{text:labelTexts[i],fontFamily:'DejaVu Sans',fontWeight:labelBold[i]?'bold':'normal',fontSize:fs,lineHeight:Math.round(fs*1.0),fill:'#fff',align:'center',verticalAlign:'middle',textShadowColor:'rgba(0,0,0,0.75)',textShadowBlur:0,textShadowOffsetX:Math.max(1,fs/90),textShadowOffsetY:Math.max(1,fs/90)}};}}
 ]
};
const chart=echarts.init(document.getElementById('c'),null,{renderer:'canvas',width:2512,height:2512});
chart.setOption(option);
</script></body></html>
